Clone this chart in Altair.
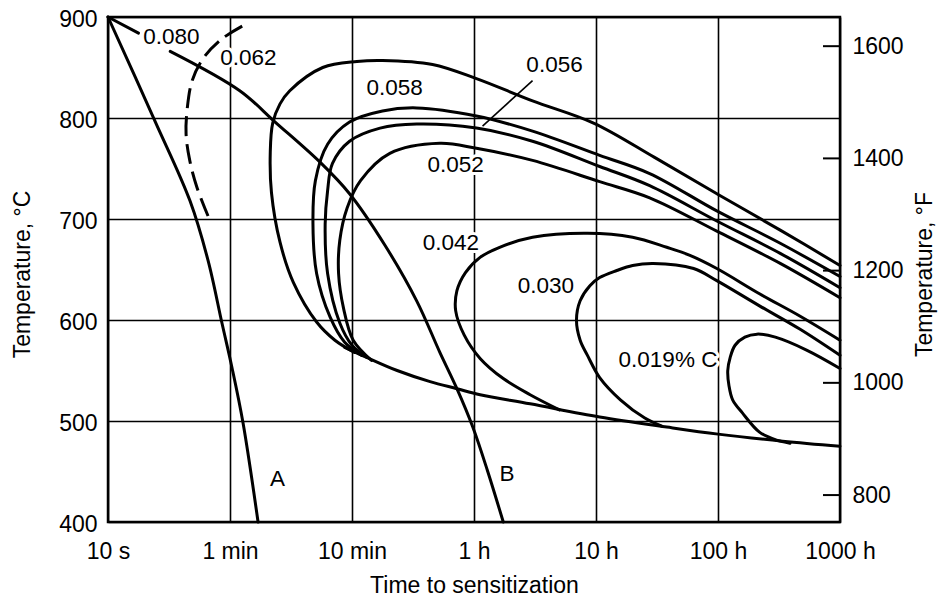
import json
import altair as alt
import pandas as pd

# ---------------- data (x in decades of time from 10 s; y in deg C) ----------------
x_tick_labels = ["10 s", "1 min", "10 min", "1 h", "10 h", "100 h", "1000 h"]
x_tick_pos = [0, 1, 2, 3, 4, 5, 6]
y_ticks_c = [400, 500, 600, 700, 800, 900]
y_ticks_f = [800, 1000, 1200, 1400, 1600]

line_a_u = [0.0, 0.385, 0.672, 0.82, 0.934, 1.016, 1.107, 1.23]
line_a_t = [900, 797, 718, 659, 597, 553, 498, 400]

line_b1_u = [0.0, 0.25]
line_b1_t = [900, 884]
line_b2_u = [0.51, 1.08, 1.37, 1.74, 1.98, 2.27, 2.53, 2.72, 2.86, 2.99, 3.11, 3.24]
line_b2_t = [866, 827, 796, 756, 725, 674, 619, 568, 532, 494, 451, 400]

dash_062_u = [1.10, 0.93, 0.78, 0.69, 0.65, 0.64, 0.67, 0.73, 0.82]
dash_062_t = [891, 878, 859, 837, 810, 784, 758, 731, 703]

c1_u = [2.02, 1.86, 1.71, 1.52, 1.41, 1.34, 1.33, 1.35, 1.41, 1.49, 1.76, 2.04, 2.25, 2.66,
        3.02, 3.48, 3.98, 4.48, 4.99, 5.51, 6.0]
c1_t = [568, 580, 598, 637, 677, 726, 766, 795, 814, 827, 850, 856, 857, 853,
        839, 817, 795, 761, 725, 689, 654]

c2_u = [2.08, 1.94, 1.82, 1.71, 1.68, 1.70, 1.80, 1.98, 2.25, 2.53, 3.02, 3.48, 4.03, 4.44,
        4.99, 5.51, 6.0]
c2_t = [565, 578, 603, 646, 695, 738, 774, 796, 807, 810, 802, 787, 763, 745,
        708, 676, 643]

c3_u = [2.12, 2.00, 1.90, 1.80, 1.78, 1.80, 1.84, 1.98, 2.23, 2.53, 3.02, 3.48, 4.03, 4.44,
        4.99, 5.51, 6.0]
c3_t = [563, 575, 597, 646, 695, 728, 755, 777, 790, 794, 790, 777, 752, 733,
        698, 666, 632]

c4_u = [2.16, 2.01, 1.93, 1.89, 1.90, 1.96, 2.07, 2.31, 2.72, 3.02, 3.48, 4.03, 4.44,
        4.99, 5.51, 6.0]
c4_t = [560, 580, 612, 646, 679, 711, 738, 765, 775, 770, 758, 737, 721,
        688, 656, 622]

c042_u = [3.70, 3.46, 3.24, 3.05, 2.92, 2.85, 2.86, 2.93, 3.05, 3.21, 3.48, 3.93, 4.30,
          4.58, 4.77, 4.99, 5.34, 5.67, 6.0]
c042_t = [511, 526, 542, 562, 585, 609, 629, 647, 662, 672, 682, 686, 682,
          672, 664, 651, 626, 604, 580]

c030_u = [4.54, 4.40, 4.20, 4.03, 3.93, 3.87, 3.84, 3.87, 3.95, 4.03, 4.17, 4.30, 4.47,
          4.80, 4.99, 5.34, 5.67, 6.0]
c030_t = [495, 503, 521, 543, 565, 580, 600, 619, 634, 642, 649, 654, 656,
          651, 639, 614, 591, 565]

c019_u = [5.59, 5.48, 5.34, 5.20, 5.12, 5.09, 5.08, 5.10, 5.14, 5.22, 5.32, 5.47, 5.73, 6.0]
c019_t = [478, 481, 489, 508, 521, 535, 550, 563, 575, 583, 586, 583, 570, 552]

env_u = [1.94, 2.12, 2.37, 2.64, 2.86, 3.05, 3.46, 4.03, 4.58, 5.00, 5.53, 6.0]
env_t = [573, 563, 550, 539, 532, 526, 517, 504, 494, 487, 480, 475]

leader_u = [3.48, 3.07]
leader_t = [837, 792]

label_text = ["0.080", "0.062", "0.058", "0.056", "0.052", "0.042", "0.030", "0.019% C", "A", "B"]
label_u = [0.52, 1.15, 2.35, 3.66, 2.85, 2.81, 3.59, 4.59, 1.39, 3.27]
label_t = [880, 859, 830, 852, 753, 676, 634, 560, 443, 448]

# ---------------- tables ----------------
def build(curves):
    rows = []
    for name, us, ts in curves:
        for i, (u, t) in enumerate(zip(us, ts)):
            rows.append({"curve": name, "i": i, "u": u, "T": t})
    return pd.DataFrame(rows)

solid_df = build([
    ("A", line_a_u, line_a_t), ("B1", line_b1_u, line_b1_t), ("B2", line_b2_u, line_b2_t),
    ("C1", c1_u, c1_t), ("C2", c2_u, c2_t), ("C3", c3_u, c3_t), ("C4", c4_u, c4_t),
    ("C042", c042_u, c042_t), ("C030", c030_u, c030_t), ("C019", c019_u, c019_t),
    ("ENV", env_u, env_t),
])
dash_df = build([("D062", dash_062_u, dash_062_t)])
leader_df = build([("L056", leader_u, leader_t)])
label_df = pd.DataFrame({"text": label_text, "u": label_u, "T": label_t})
f_df = pd.DataFrame({"F": y_ticks_f})

FONT = "Liberation Sans"
label_expr = json.dumps(x_tick_labels) + "[datum.value]"

x_enc = alt.X("u:Q", scale=alt.Scale(domain=[0, 6], nice=False, zero=False),
              axis=alt.Axis(values=x_tick_pos, labelExpr=label_expr, grid=True,
                            labelFlush=False, labelOverlap=False,
                            labelPadding=18, labelBaseline="top", titleY=70,
                            titleBaseline="alphabetic"),
              title="Time to sensitization")
y_enc = alt.Y("T:Q", scale=alt.Scale(domain=[400, 900], nice=False, zero=False),
              axis=alt.Axis(values=y_ticks_c, grid=True, labelPadding=11, labelAlign="right",
                            labelFlush=False, labelOverlap=False,
                            labelBaseline="middle", labelOffset=2,
                            titleAngle=270, titleX=-86, titleY=257,
                            titleAlign="center", titleBaseline="middle"),
              title="Temperature, °C")

solid = alt.Chart(solid_df).mark_line(
    interpolate="catmull-rom", strokeWidth=3, color="black", strokeCap="round", strokeJoin="round"
).encode(x=x_enc, y=y_enc, detail="curve:N", order="i:Q")

dashed = alt.Chart(dash_df).mark_line(
    interpolate="catmull-rom", strokeWidth=3, color="black", strokeDash=[20, 8]
).encode(x=x_enc, y=y_enc, detail="curve:N", order="i:Q")

leader = alt.Chart(leader_df).mark_line(strokeWidth=1.6, color="black").encode(
    x=x_enc, y=y_enc, detail="curve:N", order="i:Q")

halo = alt.Chart(label_df).mark_text(
    font=FONT, fontSize=22.5, align="center", baseline="middle",
    color="white", stroke="white", strokeWidth=6, strokeJoin="round"
).encode(x=x_enc, y=y_enc, text="text:N")

text = alt.Chart(label_df).mark_text(
    font=FONT, fontSize=22.5, align="center", baseline="middle", color="black"
).encode(x=x_enc, y=y_enc, text="text:N")

main = alt.layer(solid, dashed, leader, halo, text)

f_ticks = alt.Chart(f_df).mark_rule(color="black", strokeWidth=2).encode(
    x=alt.value(715), x2=alt.value(732),
    y=alt.Y("F:Q", scale=alt.Scale(domain=[752, 1652], nice=False, zero=False),
            axis=alt.Axis(orient="right", values=y_ticks_f, format="d", grid=False,
                          labelPadding=12, labelFlush=False, labelOverlap=False,
                          labelAlign="left", labelBaseline="middle",
                          titleAngle=270, titleX=84, titleY=257,
                          titleAlign="center", titleBaseline="middle"),
            title="Temperature, °F"),
)

chart = alt.layer(main, f_ticks).resolve_scale(y="independent").properties(
    width=732, height=505,
    padding={"left": 100, "top": 9, "right": 99, "bottom": 74},
    autosize=alt.AutoSizeParams(type="none"),
).configure_view(
    stroke="black", strokeWidth=2.5
).configure_axis(
    domain=False, ticks=False, tickSize=0,
    gridColor="black", gridWidth=1.6, gridOpacity=1,
    labelFont=FONT, labelFontSize=23, labelColor="black",
    titleFont=FONT, titleFontSize=23, titleColor="black", titleFontWeight="normal",
)

chart.save("out.html", embed_options={"renderer": "svg", "actions": False})
